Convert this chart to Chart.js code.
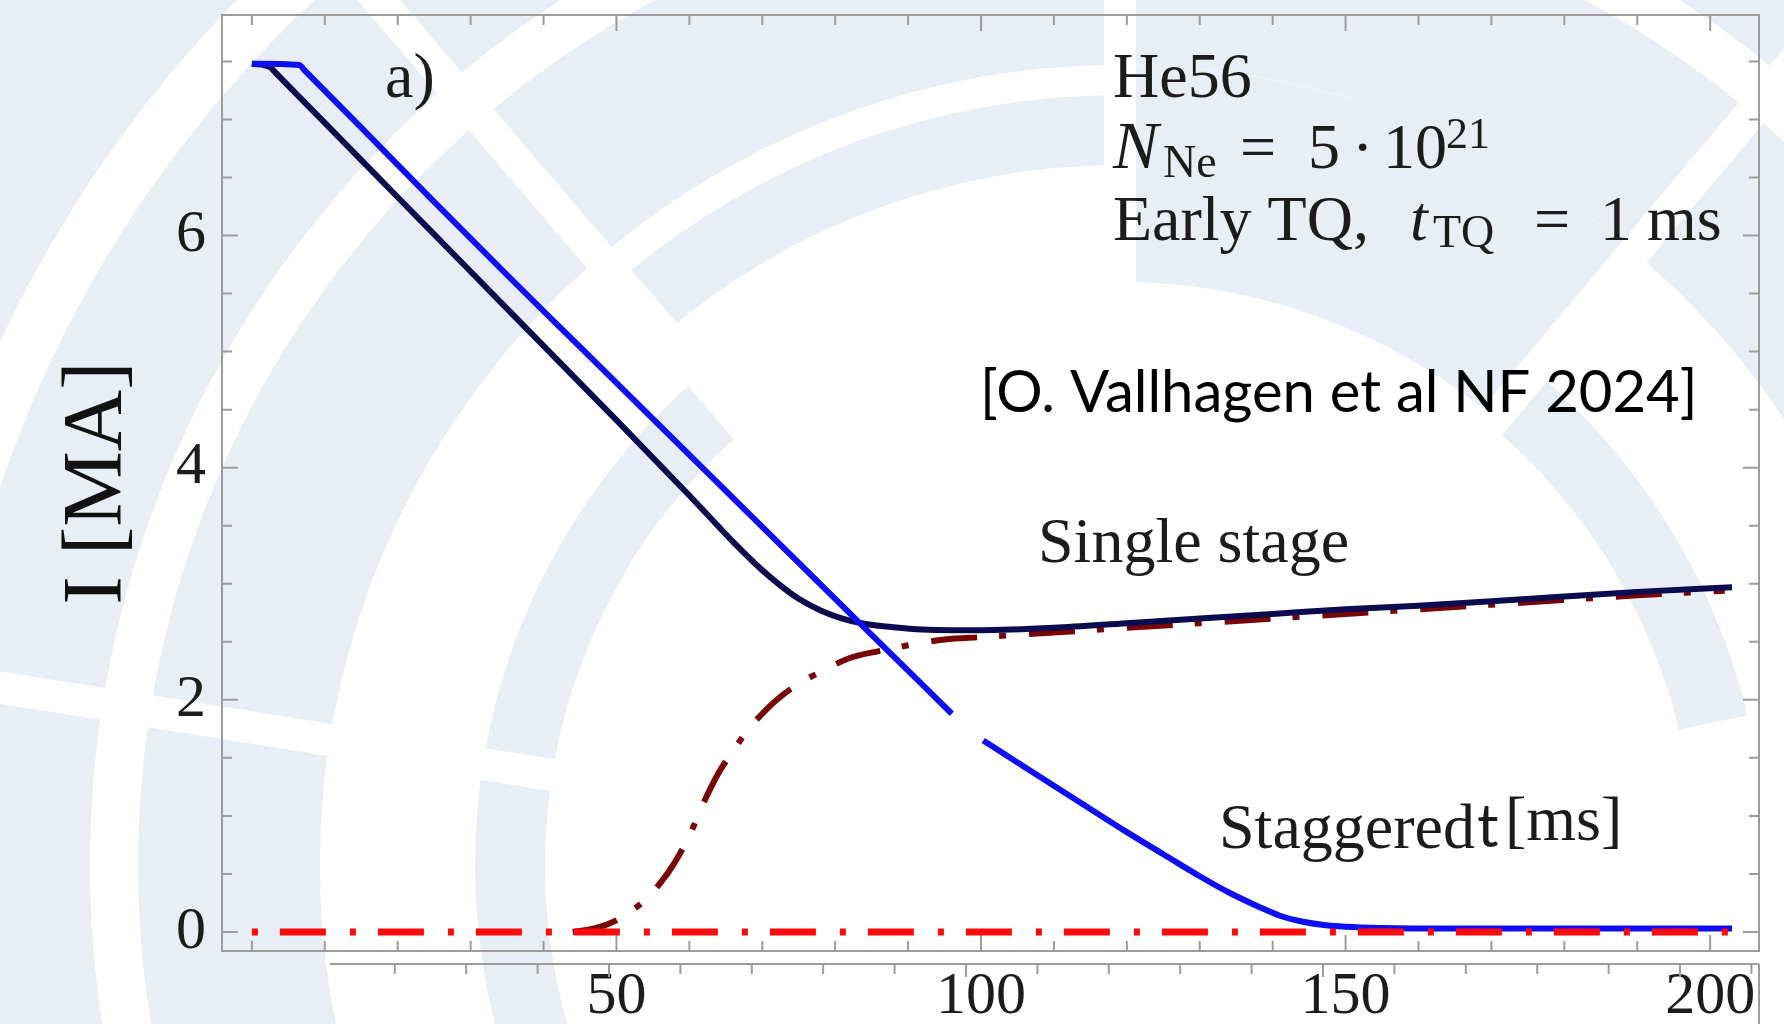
<!DOCTYPE html>
<html>
<head>
<meta charset="utf-8">
<script src="https://cdn.jsdelivr.net/npm/chart.js@4.4.0/dist/chart.umd.min.js"></script>
<style>
    html, body { margin: 0; padding: 0; background: #ffffff; }
</style>
</head>
<body>
<canvas id="grafico" width="1784" height="1024"></canvas>
<script>
// corrente de plasma, injeção escalonada (azul) - null = trecho sem curva
const tempoEscalonado = [0, 6.5, 7.2, 15, 25, 35, 45, 55, 65, 75, 85, 96, 98, 100.3, 105, 110, 115, 120, 125, 130, 134, 138, 141, 144, 147, 150, 155, 165, 203];
const correnteEscalonado = [7.48, 7.47, 7.425, 6.93, 6.29, 5.66, 5.04, 4.42, 3.80, 3.18, 2.56, 1.88, null, 1.65, 1.46, 1.26, 1.06, 0.86, 0.67, 0.48, 0.34, 0.22, 0.14, 0.09, 0.06, 0.045, 0.035, 0.03, 0.03];

// corrente de plasma, estágio único (azul escuro)
const tempoUnico = [0, 2.5, 3.2, 10, 20, 30, 40, 50, 60, 63, 66, 69, 72, 75, 78, 81, 84, 88, 92, 96, 100, 110, 120, 130, 140, 150, 160, 170, 180, 190, 203];
const correnteUnico = [7.48, 7.45, 7.405, 6.97, 6.33, 5.69, 5.05, 4.41, 3.76, 3.56, 3.36, 3.175, 3.01, 2.87, 2.77, 2.70, 2.655, 2.625, 2.605, 2.60, 2.60, 2.62, 2.66, 2.70, 2.74, 2.78, 2.81, 2.85, 2.89, 2.93, 2.97];

// corrente de elétrons fugitivos, estágio único (vinho, traço-ponto)
const tempoFugitivoUnico = [44, 47, 50, 52, 54, 56, 58, 60, 62, 64, 66, 68, 70, 72, 75, 78, 82, 86, 90, 95, 100, 110, 120, 130, 140, 150, 160, 170, 180, 190, 202];
const correnteFugitivoUnico = [0, 0.03, 0.10, 0.18, 0.28, 0.42, 0.60, 0.83, 1.12, 1.37, 1.56, 1.74, 1.88, 2.00, 2.14, 2.24, 2.36, 2.42, 2.47, 2.52, 2.54, 2.58, 2.62, 2.66, 2.70, 2.74, 2.78, 2.82, 2.86, 2.90, 2.94];

// corrente de elétrons fugitivos, escalonado (vermelho, traço-ponto)
const tempoFugitivoEscalonado = [0, 202.5];
const correnteFugitivoEscalonado = [0, 0];

// rótulos e marcas dos eixos
const rotulosX = [50, 100, 150, 200];
const rotulosY = [0, 2, 4, 6];
const marcasX = [0, 10, 20, 30, 40, 50, 60, 70, 80, 90, 100, 110, 120, 130, 140, 150, 160, 170, 180, 190, 200];
const marcasY = [0, 0.5, 1, 1.5, 2, 2.5, 3, 3.5, 4, 4.5, 5, 5.5, 6, 6.5, 7, 7.5];
const marcasEixoInferior = [20, 30, 40, 50, 60, 70, 80, 90, 100, 110, 120, 130, 140, 150, 160, 170, 180, 190, 200, 210];

const serifa = '"Liberation Serif", "DejaVu Serif", serif';
const corTexto = '#1c1c1c';
const corMoldura = '#9c9c9c';

function pontos(tempos, valores) {
    return tempos.map((t, i) => ({ x: t, y: valores[i] }));
}

// marca d'água de fundo: setores de anel claros separados por cortes radiais
const marcaDagua = {
    id: 'marcaDagua',
    beforeDraw(chart) {
        const ctx = chart.ctx;
        const cx = 1120, cy = 865;
        const rad = g => g * Math.PI / 180;
        // [raio interno, raio externo, ângulo inicial, ângulo final]
        const setores = [
            [1236, 1800, 0, 360],
            [1030, 1182, 0, 360],
            [800, 982, 0, 360],
            [700, 770, -130.6, -90],
            [583, 800, -90, -50],
            [575, 645, -50, -12],
            [575, 645, 160, 229.4]
        ];
        const cortes = [-171, -130.6, -90, -50, -12];
        ctx.save();
        ctx.fillStyle = '#ffffff';
        ctx.fillRect(0, 0, chart.width, chart.height);
        ctx.fillStyle = '#e9eef6';
        setores.forEach(([r0, r1, a0, a1]) => {
            ctx.beginPath();
            ctx.arc(cx, cy, r1, rad(a0), rad(a1));
            ctx.arc(cx, cy, r0, rad(a1), rad(a0), true);
            ctx.closePath();
            ctx.fill();
        });
        ctx.strokeStyle = '#ffffff';
        ctx.lineWidth = 32;
        cortes.forEach(grau => {
            const a = rad(grau);
            ctx.beginPath();
            ctx.moveTo(cx, cy);
            ctx.lineTo(cx + 2500 * Math.cos(a), cy + 2500 * Math.sin(a));
            ctx.stroke();
        });
        ctx.restore();
    }
};

// moldura com marcas internas e o eixo deslocado logo abaixo
const moldura = {
    id: 'moldura',
    beforeDatasetsDraw(chart) {
        const { ctx, chartArea: a, scales } = chart;
        const sx = scales.x, sy = scales.y, sx2 = scales.x2;
        ctx.save();
        ctx.strokeStyle = corMoldura;
        ctx.lineWidth = 2;
        ctx.strokeRect(a.left, a.top, a.right - a.left, a.bottom - a.top);

        ctx.beginPath();
        marcasX.forEach(t => {
            const px = sx.getPixelForValue(t);
            const tam = rotulosX.includes(t) ? 16 : 10;
            ctx.moveTo(px, a.bottom);
            ctx.lineTo(px, a.bottom - tam);
            ctx.moveTo(px, a.top);
            ctx.lineTo(px, a.top + tam);
        });
        marcasY.forEach(v => {
            const py = sy.getPixelForValue(v);
            const tam = rotulosY.includes(v) ? 16 : 10;
            ctx.moveTo(a.left, py);
            ctx.lineTo(a.left + tam, py);
            ctx.moveTo(a.right, py);
            ctx.lineTo(a.right - tam, py);
        });
        ctx.stroke();

        // eixo inferior deslocado
        const yEixo = a.bottom + 13;
        ctx.beginPath();
        ctx.moveTo(sx2.getPixelForValue(10.9), yEixo);
        ctx.lineTo(a.right, yEixo);
        ctx.moveTo(a.right, yEixo);
        ctx.lineTo(a.right, chart.height);
        marcasEixoInferior.forEach(t => {
            const px = sx2.getPixelForValue(t);
            const tam = t % 50 === 0 ? 13 : 10;
            ctx.moveTo(px, yEixo);
            ctx.lineTo(px, yEixo + tam);
        });
        ctx.stroke();
        ctx.restore();
    }
};

function escrever(ctx, partes) {
    partes.forEach(p => {
        ctx.font = p.fonte;
        ctx.fillStyle = p.cor || corTexto;
        ctx.fillText(p.texto, p.x, p.y);
    });
}

// textos explicativos sobre o gráfico
const anotacoes = {
    id: 'anotacoes',
    afterDraw(chart) {
        const ctx = chart.ctx;
        const normal = `64px ${serifa}`;
        const italico = `italic 64px ${serifa}`;
        const indice = `46px ${serifa}`;
        const expoente = `44px ${serifa}`;
        ctx.save();
        ctx.textAlign = 'left';
        ctx.textBaseline = 'alphabetic';
        escrever(ctx, [
            { texto: 'a)', fonte: normal, x: 385, y: 97 },
            { texto: 'He56', fonte: normal, x: 1113, y: 97 },
            { texto: 'N', fonte: `italic 68px ${serifa}`, x: 1113, y: 168 },
            { texto: 'Ne', fonte: indice, x: 1163, y: 177 },
            { texto: '=', fonte: normal, x: 1240, y: 168 },
            { texto: '5', fonte: normal, x: 1308, y: 168 },
            { texto: '·', fonte: normal, x: 1352, y: 168 },
            { texto: '10', fonte: normal, x: 1383, y: 168 },
            { texto: '21', fonte: expoente, x: 1446, y: 148 },
            { texto: 'Early TQ,', fonte: normal, x: 1113, y: 240 },
            { texto: 't', fonte: italico, x: 1410, y: 240 },
            { texto: 'TQ', fonte: indice, x: 1433, y: 247 },
            { texto: '=', fonte: normal, x: 1534, y: 240 },
            { texto: '1', fonte: normal, x: 1600, y: 240 },
            { texto: 'ms', fonte: normal, x: 1647, y: 240 },
            { texto: 'Single stage', fonte: normal, x: 1038, y: 562 },
            { texto: 'Staggered', fonte: normal, x: 1219, y: 848 },
            { texto: 't', fonte: '60px Lato, sans-serif', x: 1477, y: 847 },
            { texto: '[ms]', fonte: normal, x: 1505, y: 840 },
            { texto: '[O. Vallhagen et al NF 2024]', fonte: '58px Lato, sans-serif', x: 980, y: 412, cor: '#000000' }
        ]);
        ctx.restore();
    }
};

const ctx = document.getElementById('grafico');

new Chart(ctx, {
    type: 'line',
    data: {
        datasets: [
            {
                data: pontos(tempoFugitivoEscalonado, correnteFugitivoEscalonado),
                borderColor: '#ff0a0a',
                borderWidth: 7,
                borderDash: [6, 22, 46, 24],
                tension: 0
            },
            {
                data: pontos(tempoEscalonado, correnteEscalonado),
                borderColor: '#0f0ff5',
                borderWidth: 6,
                cubicInterpolationMode: 'monotone',
                spanGaps: false
            },
            {
                data: pontos(tempoUnico, correnteUnico),
                borderColor: '#0b0b50',
                borderWidth: 6,
                cubicInterpolationMode: 'monotone'
            },
            {
                data: pontos(tempoFugitivoUnico, correnteFugitivoUnico),
                borderColor: '#7a0505',
                borderWidth: 6,
                borderDash: [46, 22, 7, 23],
                cubicInterpolationMode: 'monotone'
            }
        ]
    },
    options: {
        responsive: false,
        animation: false,
        layout: { padding: { top: 15, right: 25, bottom: 0, left: 0 } },
        elements: { point: { radius: 0 } },
        plugins: {
            legend: { display: false },
            tooltip: { enabled: false }
        },
        scales: {
            x: {
                type: 'linear',
                min: -4.1,
                max: 206.7,
                grid: { display: false, drawTicks: false },
                border: { display: false },
                afterBuildTicks: scale => {
                    scale.ticks = rotulosX.map(v => ({ value: v }));
                },
                afterFit: scale => {
                    scale.height = 73;
                    scale.paddingLeft = 0;
                    scale.paddingRight = 0;
                },
                ticks: {
                    autoSkip: false,
                    maxRotation: 0,
                    padding: 10,
                    color: corTexto,
                    font: { family: serifa, size: 60 }
                }
            },
            x2: {
                type: 'linear',
                display: false,
                min: -4.2,
                max: 211.06
            },
            y: {
                min: -0.164,
                max: 7.9,
                grid: { display: false, drawTicks: false },
                border: { display: false },
                afterBuildTicks: scale => {
                    scale.ticks = rotulosY.map(v => ({ value: v }));
                },
                afterFit: scale => {
                    scale.width = 222;
                    scale.paddingTop = 0;
                    scale.paddingBottom = 0;
                },
                ticks: {
                    padding: 16,
                    color: corTexto,
                    font: { family: serifa, size: 60 }
                },
                title: {
                    display: true,
                    text: 'I [MA]',
                    color: '#111111',
                    padding: { top: 48, bottom: 0 },
                    font: { family: serifa, size: 85 }
                }
            }
        }
    },
    plugins: [marcaDagua, moldura, anotacoes]
});
</script>
</body>
</html>
